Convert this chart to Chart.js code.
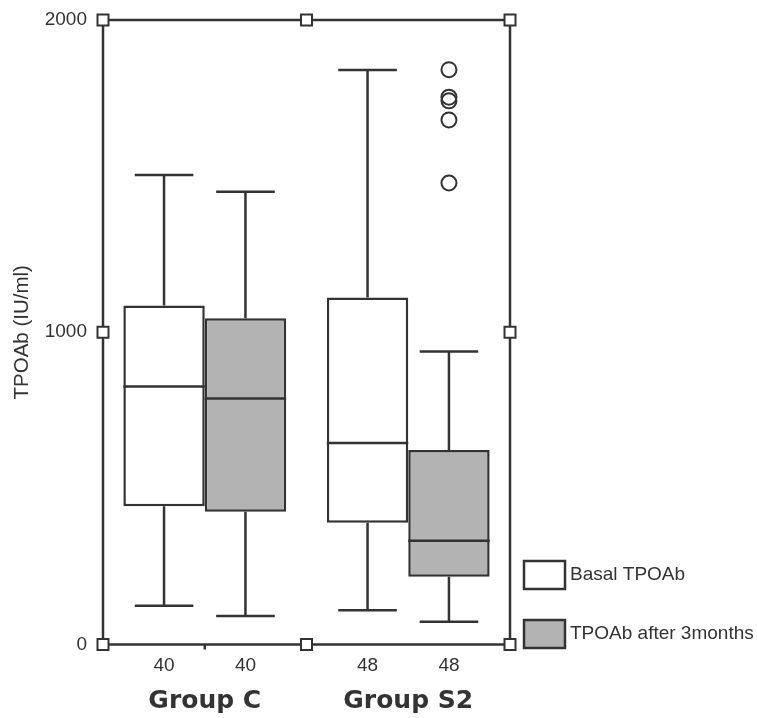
<!DOCTYPE html>
<html>
<head>
<meta charset="utf-8">
<script src="https://cdn.jsdelivr.net/npm/chart.js@4/dist/chart.umd.min.js"></script>
<style>
  html, body { margin: 0; padding: 0; background: #fff; }
  #wrap { width: 757px; height: 718px; }
</style>
</head>
<body>
<div id="wrap"><canvas id="c" width="757" height="718"></canvas></div>
<script>
// ---- data ----
const categories = ['Group C', 'Group S2'];
const seriesNames = ['Basal TPOAb', 'TPOAb after 3months'];
const yTicks = [0, 1000, 2000];

const countsBasal = [40, 48];
const countsAfter = [40, 48];

const basalMin    = [124, 110];
const basalQ1     = [443, 390];
const basalMedian = [826, 645];
const basalQ3     = [1086, 1111];
const basalMax    = [1504, 1840];
const basalOutliers = [[], []];

const afterMin    = [91, 73];
const afterQ1     = [425, 217];
const afterMedian = [788, 332];
const afterQ3     = [1045, 623];
const afterMax    = [1450, 938];
const afterOutliers = [[], [1841, 1753, 1741, 1680, 1478]];

// ---- build ----
const INK = '#333333';
const GRAY = '#b3b3b3';

const stats = [
  {min: basalMin, q1: basalQ1, med: basalMedian, q3: basalQ3, max: basalMax, out: basalOutliers, n: countsBasal},
  {min: afterMin, q1: afterQ1, med: afterMedian, q3: afterQ3, max: afterMax, out: afterOutliers, n: countsAfter}
];

function boxData(q1, q3) { return q1.map((v, i) => [v, q3[i]]); }

const boxPlugin = {
  id: 'boxPlugin',
  afterDatasetsDraw(chart) {
    const ctx = chart.ctx;
    const y = chart.scales.y;
    ctx.save();
    ctx.strokeStyle = INK;
    ctx.lineWidth = 2.5;
    ctx.lineCap = 'butt';
    chart.data.datasets.forEach((ds, di) => {
      const meta = chart.getDatasetMeta(di);
      const s = stats[di];
      meta.data.forEach((bar, i) => {
        const p = bar.getProps(['x', 'width'], true);
        const cx = p.x, w = p.width;
        const cap = w * 0.36;
        const yMin = y.getPixelForValue(s.min[i]);
        const yQ1 = y.getPixelForValue(s.q1[i]);
        const yMed = y.getPixelForValue(s.med[i]);
        const yQ3 = y.getPixelForValue(s.q3[i]);
        const yMax = y.getPixelForValue(s.max[i]);
        ctx.beginPath();
        ctx.moveTo(cx, yQ3); ctx.lineTo(cx, yMax);
        ctx.moveTo(cx - cap, yMax); ctx.lineTo(cx + cap, yMax);
        ctx.moveTo(cx, yQ1); ctx.lineTo(cx, yMin);
        ctx.moveTo(cx - cap, yMin); ctx.lineTo(cx + cap, yMin);
        ctx.moveTo(cx - w / 2, yMed); ctx.lineTo(cx + w / 2, yMed);
        ctx.stroke();
        ctx.lineWidth = 2;
        s.out[i].forEach(v => {
          ctx.beginPath();
          ctx.arc(cx, y.getPixelForValue(v), 7.5, 0, Math.PI * 2);
          ctx.stroke();
        });
        ctx.lineWidth = 2.5;
        // counts under axis
        ctx.fillStyle = INK;
        ctx.font = '19px "Liberation Sans", Arial, sans-serif';
        ctx.textAlign = 'center';
        ctx.textBaseline = 'middle';
        ctx.fillText(String(s.n[i]), cx, chart.chartArea.bottom + 21);
      });
    });
    ctx.restore();
  },
  afterDraw(chart) {
    const ctx = chart.ctx;
    const a = chart.chartArea;
    const y = chart.scales.y;
    const x = chart.scales.x;
    ctx.save();
    ctx.strokeStyle = INK;
    ctx.lineWidth = 2.5;
    ctx.strokeRect(a.left, a.top, a.right - a.left, a.bottom - a.top);
    // small tick
    const tx = x.getPixelForValue(0);
    ctx.beginPath();
    ctx.moveTo(tx, a.bottom); ctx.lineTo(tx, a.bottom + 5);
    ctx.stroke();
    // square markers
    const midX = (a.left + a.right) / 2;
    const y1000 = y.getPixelForValue(1000);
    const pts = [[a.left, a.top], [midX, a.top], [a.right, a.top],
                 [a.left, y1000], [a.right, y1000],
                 [a.left, a.bottom], [midX, a.bottom], [a.right, a.bottom]];
    ctx.lineWidth = 2;
    pts.forEach(([px, py]) => {
      ctx.fillStyle = '#fff';
      ctx.fillRect(px - 5.5, py - 5.5, 11, 11);
      ctx.strokeRect(px - 5.5, py - 5.5, 11, 11);
    });
    // legend
    ctx.font = '19px "Liberation Sans", Arial, sans-serif';
    ctx.textAlign = 'left';
    ctx.textBaseline = 'middle';
    chart.data.datasets.forEach((ds, di) => {
      const bx = a.right + 14, by = 561 + di * 59;
      ctx.fillStyle = ds.backgroundColor;
      ctx.fillRect(bx, by, 41, 28);
      ctx.lineWidth = 2.5;
      ctx.strokeRect(bx, by, 41, 28);
      ctx.fillStyle = INK;
      ctx.fillText(ds.label, bx + 46, by + 14);
    });
    ctx.restore();
  }
};

new Chart(document.getElementById('c'), {
  type: 'bar',
  data: {
    labels: categories,
    datasets: [
      {label: seriesNames[0], data: boxData(basalQ1, basalQ3), backgroundColor: '#ffffff',
       borderColor: INK, borderWidth: 2.5, borderSkipped: false},
      {label: seriesNames[1], data: boxData(afterQ1, afterQ3), backgroundColor: GRAY,
       borderColor: INK, borderWidth: 2.5, borderSkipped: false}
    ]
  },
  options: {
    responsive: false,
    animation: false,
    devicePixelRatio: 1,
    layout: {padding: {top: 20, right: 247, left: 0, bottom: 0}},
    plugins: {legend: {display: false}, tooltip: {enabled: false}},
    datasets: {bar: {categoryPercentage: 0.8, barPercentage: 1.0}},
    scales: {
      x: {
        grid: {display: false, drawTicks: false},
        border: {display: false},
        ticks: {color: INK, padding: 42, font: {family: '"DejaVu Sans", sans-serif', size: 25, weight: 'bold'}},
        afterFit(s) { s.height = 73.5; s.paddingLeft = 0; s.paddingRight = 0; }
      },
      y: {
        min: 0, max: 2000,
        afterBuildTicks(s) { s.ticks = yTicks.map(v => ({value: v})); },
        grid: {display: false, drawTicks: false},
        border: {display: false},
        ticks: {color: INK, padding: 16, callback: v => String(v),
                font: {family: '"Liberation Sans", Arial, sans-serif', size: 19}},
        title: {display: true, text: 'TPOAb (IU/ml)', color: INK, padding: {top: 10, bottom: 0},
                font: {family: '"Liberation Sans", Arial, sans-serif', size: 20.5}},
        afterFit(s) { s.width = 103; s.paddingTop = 0; s.paddingBottom = 0; }
      }
    }
  },
  plugins: [boxPlugin]
});
</script>
</body>
</html>
